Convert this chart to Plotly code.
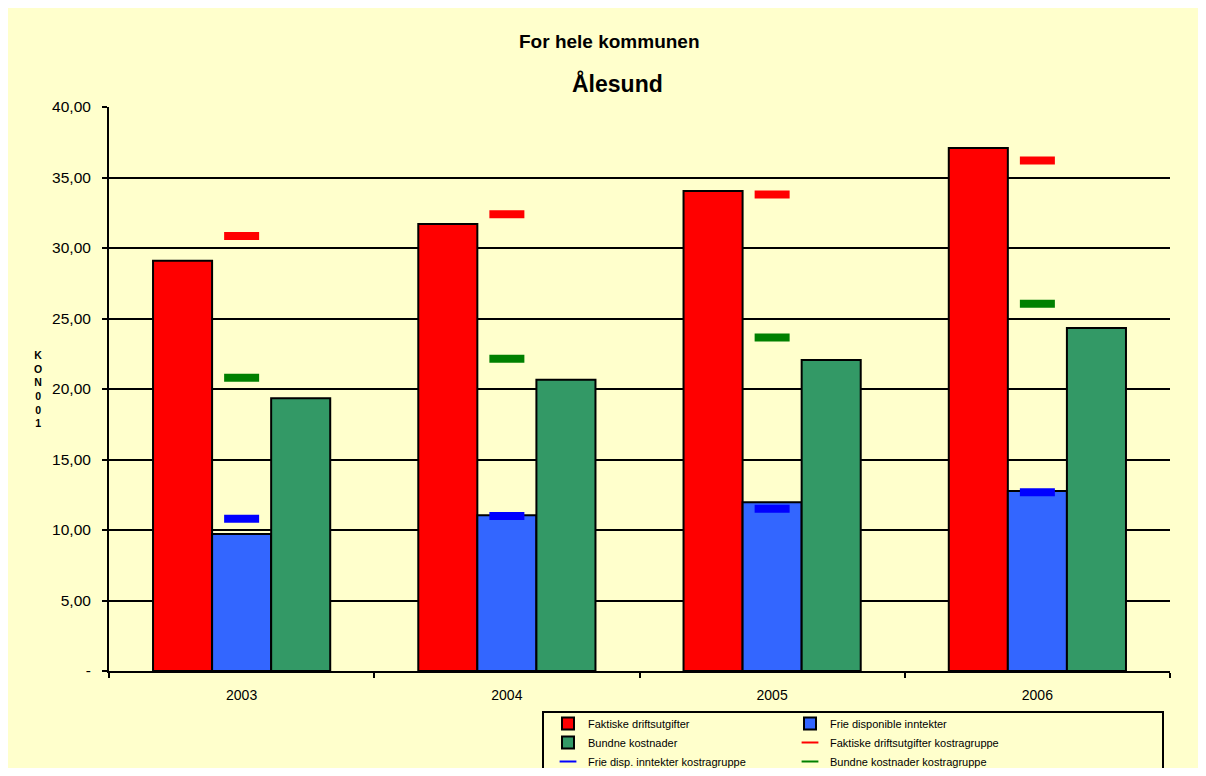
import plotly.graph_objects as go

years = ["2003", "2004", "2005", "2006"]
faktiske = [29.1, 31.7, 34.05, 37.1]
frie = [9.72, 11.05, 11.96, 12.77]
bundne = [19.35, 20.65, 22.05, 24.33]
faktiske_kostra = [30.85, 32.4, 33.8, 36.2]
frie_kostra = [10.8, 11.0, 11.5, 12.67]
bundne_kostra = [20.8, 22.15, 23.65, 26.05]

ytickvals = [0, 5, 10, 15, 20, 25, 30, 35, 40]
yticktext = ["-", "5,00", "10,00", "15,00", "20,00", "25,00", "30,00", "35,00", "40,00"]

# page has an 8px body margin; keep figure inside the viewport (no scrollbars)
OFF = 8
W, H = 1206 - 2 * OFF, 776 - 2 * OFF
# plot area in reference (page) pixels
L, R, T, B = 109, 1170, 107, 671
pw, ph = R - L, B - T


def px_x(x):
    return (x - L) / pw


def px_y(y):
    return (B - y) / ph


BG = "#FFFFCC"
FONT = "Arial, Liberation Sans, sans-serif"

fig = go.Figure()
bar_specs = [
    ("Faktiske driftsutgifter", faktiske, "#FF0000", "legend"),
    ("Frie disponible inntekter", frie, "#3366FF", "legend2"),
    ("Bundne kostnader", bundne, "#339966", "legend"),
]
for name, vals, col, lg in bar_specs:
    fig.add_trace(go.Bar(x=years, y=vals, name=name, legend=lg,
                         marker=dict(color=col, line=dict(color="black", width=2))))

mark_specs = [
    ("Faktiske driftsutgifter kostragruppe", faktiske_kostra, "#FF0000", "legend2"),
    ("Frie disp. inntekter kostragruppe", frie_kostra, "#0000FF", "legend"),
    ("Bundne kostnader kostragruppe", bundne_kostra, "#008000", "legend2"),
]
for name, vals, col, lg in mark_specs:
    fig.add_trace(go.Scatter(x=years, y=vals, name=name, mode="markers", legend=lg,
                             marker=dict(symbol="line-ew", size=25, color=col,
                                         line=dict(color=col, width=8))))

leg_common = dict(orientation="v", yanchor="top", xanchor="left",
                  bgcolor="rgba(0,0,0,0)", borderwidth=0,
                  font=dict(size=11, family=FONT), itemsizing="constant",
                  tracegroupgap=0, traceorder="normal")

LEG_TOP = 709

fig.update_layout(
    width=W, height=H,
    margin=dict(l=L - OFF, r=W - (R - OFF), t=T - OFF, b=H - (B - OFF), pad=0,
                autoexpand=False),
    paper_bgcolor=BG,
    plot_bgcolor=BG,
    barmode="group",
    bargap=0.332,
    bargroupgap=0,
    font=dict(family=FONT, color="black", size=14),
    showlegend=True,
    legend=dict(x=px_x(548), y=px_y(LEG_TOP), **leg_common),
    legend2=dict(x=px_x(790), y=px_y(LEG_TOP), **leg_common),
    shapes=[dict(type="rect", xref="paper", yref="paper",
                 x0=px_x(543), x1=px_x(1163), y0=px_y(800), y1=px_y(LEG_TOP + 3),
                 fillcolor="rgba(0,0,0,0)", line=dict(width=2, color="black"),
                 layer="above")],
)

fig.update_xaxes(
    type="category", showline=True, linecolor="black", linewidth=2,
    ticks="outside", tickson="boundaries", ticklen=5, tickwidth=2, tickcolor="black",
    showgrid=False, tickfont=dict(size=14), ticklabelstandoff=10,
)
fig.update_yaxes(
    range=[0, 40], tickvals=ytickvals, ticktext=yticktext,
    showline=True, linecolor="black", linewidth=2,
    ticks="outside", ticklen=5, tickwidth=2, tickcolor="black",
    showgrid=True, gridcolor="black", gridwidth=2, zeroline=False,
    tickfont=dict(size=15.5), ticklabelstandoff=8,
)

annotations = [
    dict(text="<b>For hele kommunen</b>", x=px_x(609), y=px_y(41), xref="paper", yref="paper",
         showarrow=False, font=dict(size=19, family=FONT), xanchor="center", yanchor="middle"),
    dict(text="<b>Ålesund</b>", x=px_x(617), y=px_y(84), xref="paper", yref="paper",
         showarrow=False, font=dict(size=23, family=FONT), xanchor="center", yanchor="middle"),
    dict(text="<b>K<br>O<br>N<br>0<br>0<br>1</b>", x=px_x(38), y=px_y(389),
         xref="paper", yref="paper", showarrow=False,
         font=dict(size=10.5, family=FONT), xanchor="center", yanchor="middle"),
]
fig.update_layout(annotations=annotations)

fig.write_html("out.html")
